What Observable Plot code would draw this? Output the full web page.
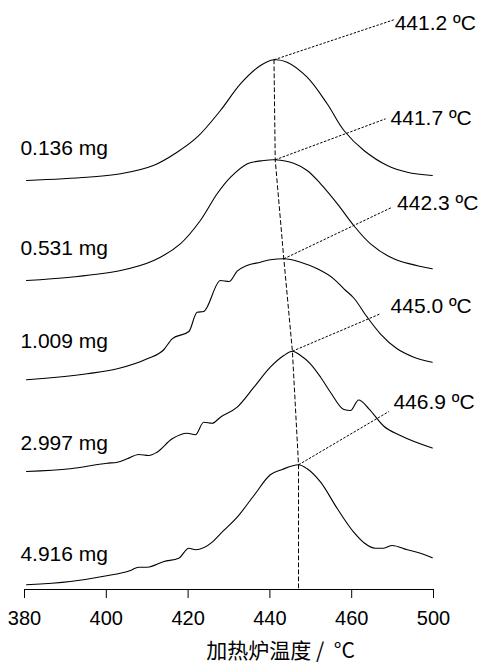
<!DOCTYPE html>
<html><head><meta charset="utf-8">
<script src="https://cdn.jsdelivr.net/npm/d3@7"></script>
<script src="https://cdn.jsdelivr.net/npm/@observablehq/plot@0.6"></script>
<style>body{margin:0;background:#fff}</style>
</head><body><div id="chart"></div>
<script>
// Sample masses and vertical stacking offsets
const samples = ["0.136 mg", "0.531 mg", "1.009 mg", "2.997 mg", "4.916 mg"];
const offsets = [409, 309, 209.7, 118, 4.7];

// Curves: furnace temperature (°C) and signal above each baseline
const temp1 = [380.5, 395.3, 403.5, 411.5, 417.3, 422.2, 427.9, 432.8, 437.7, 441.0, 444.2, 449.1, 454.0, 458.1, 463.0, 468.7, 473.6, 479.7];
const sig1  = [0, 3.3, 6.7, 15, 28.3, 43.3, 70, 96.7, 115, 120.7, 118.3, 103.3, 76.7, 50, 30, 15, 8.3, 5];

const temp2 = [380.5, 391.2, 403.5, 411.6, 418.1, 423.0, 427.1, 430.4, 434.5, 438.5, 441.3, 445.8, 449.1, 452.4, 456.5, 460.5, 464.6, 470.3, 479.7];
const sig2  = [0, 3.3, 10, 20, 36.7, 60, 86.7, 103.3, 116.7, 120, 120.7, 117.3, 110, 96.7, 76.7, 55, 36.7, 21.7, 11.7];

const temp3 = [380.5, 395.3, 402.7, 410.0, 414.1, 416.1, 420.2, 422.2, 423.8, 427.9, 430.0, 432.0, 434.4, 437.7, 440.1, 443.4, 447.5, 451.6, 455.6, 458.1, 460.5, 463.8, 467.0, 471.1, 475.2, 479.7];
const sig3  = [0, 6, 11, 21, 30.3, 41, 48.3, 67.6, 68.3, 99.3, 98.3, 108.6, 114.3, 117.6, 120, 121, 117.6, 111, 101, 91, 81.8, 62.6, 46, 31, 22.6, 17.6];

const temp4 = [380.5, 391.2, 400.2, 402.7, 405.1, 407.9, 410.4, 412.4, 416.1, 419.8, 421.8, 423.8, 425.9, 427.9, 432.0, 436.1, 440.1, 443.4, 445.5, 447.5, 449.9, 452.4, 454.8, 458.1, 459.7, 461.7, 464.2, 467.8, 471.9, 479.7];
const sig4  = [0, 2.7, 8.3, 9.3, 12.7, 17, 16, 19.3, 32.7, 38.3, 36.7, 49.3, 48.3, 54.3, 64.3, 84.3, 104.3, 116, 120.3, 116, 107.7, 94.3, 79.3, 62, 61, 71.5, 62.7, 45.5, 36, 23.5];

const temp5 = [380.5, 391.2, 399.4, 405.9, 407.9, 410.0, 414.1, 417.7, 420.2, 421.8, 425.9, 427.9, 432.0, 436.1, 440.1, 443.0, 447.0, 449.1, 452.4, 456.5, 460.5, 463.0, 465.8, 467.8, 469.9, 473.6, 476.8, 479.7];
const sig5  = [0, 3.3, 8.6, 14.3, 17.6, 17.6, 23.3, 26.6, 36.6, 35, 42.6, 51, 67.6, 89.3, 110, 115.3, 120, 116, 102.6, 76, 52.6, 42, 36.6, 36.6, 39.3, 35, 31.6, 27];

// Sample label placement
const sampleLabelTemp = 379;
const sampleLabelLevel = [441, 341, 248.5, 146.5, 35.5];

// Peak annotations
const peakLabels = ["441.2 ºC", "441.7 ºC", "442.3 ºC", "445.0 ºC", "446.9 ºC"];
const labelTemp  = [470.5, 469.5, 471.1, 469.5, 470.2];
const labelLevel = [566.5, 471.5, 386.5, 283.5, 187.5];
const leaderTemp  = [470.3, 468.3, 469.9, 467.0, 469.1];
const leaderLevel = [569.7, 470.7, 382.3, 275.7, 178];

// Axis
const tickValues = [380, 400, 420, 440, 460, 480];
const tickLabels = ["380", "400", "420", "440", "460", "500"];
const xLabel = "加热炉温度 /  °C";
const xLabelTemp = 442.6;

const temps = [temp1, temp2, temp3, temp4, temp5];
const sigs = [sig1, sig2, sig3, sig4, sig5];
const rows = temps.flatMap((ts, i) => ts.map((t, j) => ({i, sample: samples[i], T: t, level: offsets[i] + sigs[i][j]})));
const peaks = temps.map((ts, i) => {
  const j = d3.maxIndex(sigs[i]);
  return {i, T: ts[j], level: offsets[i] + sigs[i][j]};
});
const vline = [...peaks, {i: 5, T: peaks[4].T, level: 0}];
const sampleRows = samples.map((s, i) => ({s, T: sampleLabelTemp, level: sampleLabelLevel[i]}));
const peakRows = peaks.map((p, i) => ({...p, label: peakLabels[i], lT: labelTemp[i], lL: labelLevel[i], eT: leaderTemp[i], eL: leaderLevel[i]}));

const font = "'Liberation Sans', Arial, Helvetica, 'Noto Sans CJK SC', sans-serif";

const chart = Plot.plot({
  width: 480,
  height: 663,
  marginLeft: 24,
  marginRight: 47,
  marginTop: 0,
  marginBottom: 74,
  x: {domain: [380, 480]},
  y: {domain: [0, 589], axis: null},
  style: {fontFamily: font, fontSize: "20px", color: "black", background: "white", overflow: "visible"},
  marks: [
    Plot.axisX({ticks: tickValues, tickFormat: d => tickLabels[tickValues.indexOf(d)], tickSize: 9, tickPadding: 12, label: null, fontSize: 20, stroke: "black"}),
    Plot.ruleY([0], {x1: d3.min(tickValues), x2: d3.max(tickValues), stroke: "black"}),
    Plot.line(rows.filter(d => d.i < 2), {x: "T", y: "level", z: "sample", curve: "catmull-rom", stroke: "black", strokeWidth: 1.1}),
    Plot.line(rows.filter(d => d.i >= 2), {x: "T", y: "level", z: "sample", curve: "monotone-x", stroke: "black", strokeWidth: 1.1}),
    Plot.line(vline, {x: "T", y: "level", stroke: "black", strokeWidth: 1, strokeDasharray: "4,3"}),
    Plot.link(peakRows, {x1: "T", y1: "level", x2: "eT", y2: "eL", stroke: "black", strokeWidth: 1, strokeDasharray: "2.5,1.5"}),
    Plot.text(peakRows, {x: "lT", y: "lL", text: "label", textAnchor: "start", fontSize: 21, fill: "black"}),
    Plot.text(sampleRows, {x: "T", y: "level", text: "s", textAnchor: "start", fontSize: 21, fill: "black"}),
    Plot.text([xLabel], {x: xLabelTemp, y: 0, dy: 62, text: d => d, fontSize: 21, fill: "black", fontFamily: "'Noto Sans CJK SC', 'Liberation Sans', sans-serif"})
  ]
});
document.getElementById("chart").append(chart);
</script>
</body></html>
